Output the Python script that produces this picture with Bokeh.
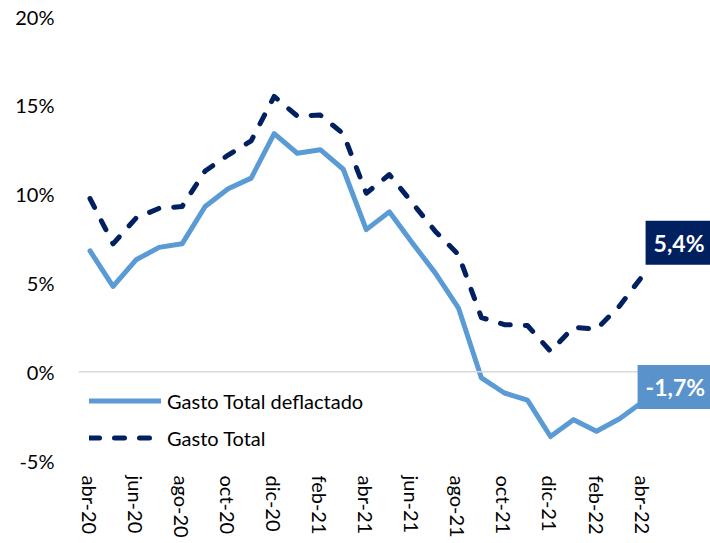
from bokeh.plotting import figure
from bokeh.models import ColumnDataSource, FixedTicker, Span, Legend, LegendItem, Label, Range1d
from bokeh.embed import file_html
from bokeh.resources import INLINE

months = ["abr-20", "may-20", "jun-20", "jul-20", "ago-20", "sep-20", "oct-20", "nov-20",
          "dic-20", "ene-21", "feb-21", "mar-21", "abr-21", "may-21", "jun-21", "jul-21",
          "ago-21", "sep-21", "oct-21", "nov-21", "dic-21", "ene-22", "feb-22", "mar-22", "abr-22"]
gasto_deflactado = [6.8, 4.8, 6.3, 7.0, 7.2, 9.3, 10.3, 10.9, 13.4, 12.3, 12.5, 11.4, 8.0,
                    9.0, 7.25, 5.55, 3.6, -0.35, -1.2, -1.6, -3.65, -2.7, -3.35, -2.65, -1.7]
gasto_total = [9.75, 7.2, 8.65, 9.2, 9.3, 11.3, 12.2, 13.0, 15.5, 14.4, 14.45, 13.4, 10.05,
               11.1, 9.5, 7.9, 6.6, 3.05, 2.65, 2.6, 1.15, 2.5, 2.4, 3.7, 5.4]
y_ticks = [-5, 0, 5, 10, 15, 20]
y_tick_labels = ["-5%", "0%", "5%", "10%", "15%", "20%"]
label_total = "5,4%"
label_defl = "-1,7%"

FONT = "Lato"
LIGHT = "#5B9BD5"
NAVY = "#002060"

idx = list(range(len(months)))
src = ColumnDataSource(dict(x=idx, defl=gasto_deflactado, tot=gasto_total))

p = figure(width=710, height=543, output_backend="svg", toolbar_location=None, title=None,
           x_range=Range1d(-0.5, 26.95), y_range=Range1d(-5, 20),
           min_border_left=78, min_border_right=0, min_border_top=16, min_border_bottom=83)
p.outline_line_color = None
p.background_fill_color = "white"
p.border_fill_color = "white"
p.xgrid.visible = False
p.ygrid.visible = False

zero = Span(location=0, dimension="width", line_color="#D9D9D9", line_width=1.5)
p.add_layout(zero)

r1 = p.line("x", "defl", source=src, line_color=LIGHT, line_width=5,
            line_join="round", line_cap="round")
r2 = p.line("x", "tot", source=src, line_color=NAVY, line_width=5, line_dash="10 15",
            line_join="round", line_cap="round")

# axes
p.xaxis.ticker = FixedTicker(ticks=idx[::2])
p.xaxis.major_label_overrides = {i: months[i] for i in idx[::2]}
p.xaxis.major_label_orientation = "vertical"
p.yaxis.ticker = FixedTicker(ticks=y_ticks)
p.yaxis.major_label_overrides = {t: l for t, l in zip(y_ticks, y_tick_labels)}
for ax in (p.xaxis, p.yaxis):
    ax.axis_line_color = None
    ax.major_tick_line_color = None
    ax.minor_tick_line_color = None
    ax.major_tick_out = 0
    ax.major_tick_in = 0
    ax.minor_tick_out = 0
    ax.minor_tick_in = 0
    ax.major_label_text_font = FONT
    ax.major_label_text_font_size = "20px"
    ax.major_label_text_color = "#000000"
p.xaxis.major_label_standoff = 15
p.yaxis.major_label_standoff = 24

legend = Legend(items=[LegendItem(label="Gasto Total deflactado", renderers=[r1]),
                       LegendItem(label="Gasto Total", renderers=[r2])],
                location=(11, 4), orientation="vertical",
                glyph_width=72, glyph_height=37, label_height=37, label_standoff=6,
                spacing=0, padding=0, margin=0,
                label_text_font=FONT, label_text_font_size="20px", label_text_color="#000000",
                border_line_color=None, background_fill_alpha=0)
p.add_layout(legend)

lab1 = Label(x=idx[-1], y=gasto_total[-1], text=label_total, x_offset=3, y_offset=33,
             text_align="left", text_baseline="middle", text_color="white",
             text_font=FONT, text_font_size="23px", text_font_style="bold",
             background_fill_color=NAVY, padding=8)
lab2 = Label(x=idx[-1], y=gasto_deflactado[-1], text=label_defl, x_offset=-5, y_offset=15,
             text_align="left", text_baseline="middle", text_color="white",
             text_font=FONT, text_font_size="23px", text_font_style="bold",
             background_fill_color="#5A92CB", padding=8)
p.add_layout(lab1)
p.add_layout(lab2)

open("out.html", "w").write(file_html(p, INLINE))
